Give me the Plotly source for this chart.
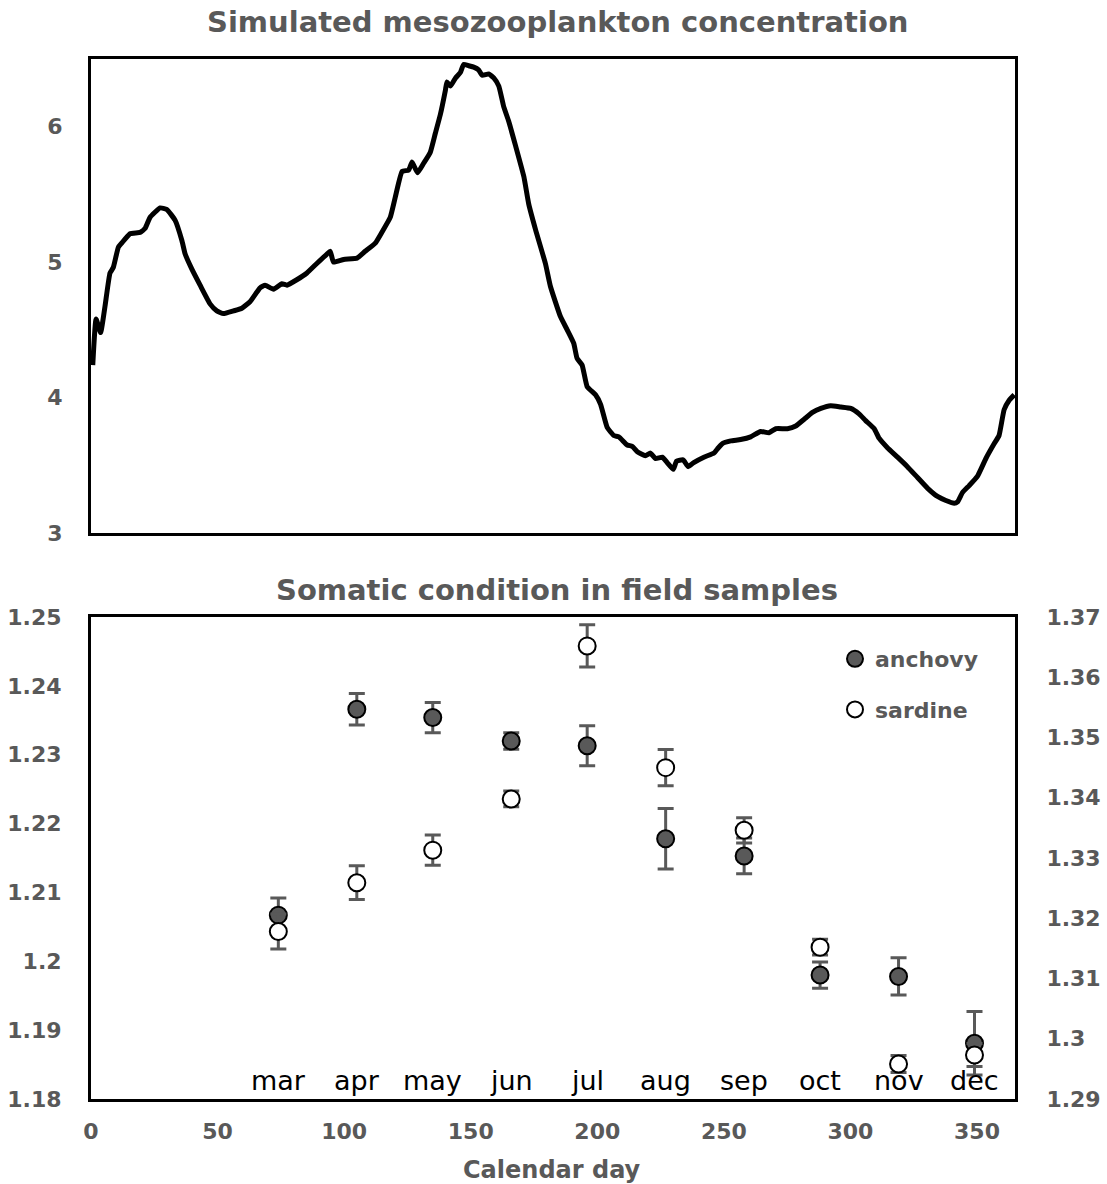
import plotly.graph_objects as go

# Simulated mesozooplankton concentration (calendar day, concentration)
model_day = [0.7, 2, 3.8, 5.5, 7.5, 8.8, 10.8, 12.1, 15.4, 19.4, 21.4, 23.3, 27.3, 29.9,
             33.2, 35.9, 37.2, 39.8, 43.1, 47.1, 49.7, 52.3, 56.3, 59.6, 62.9, 66.8, 68.8,
             72.1, 75.4, 77.4, 81.3, 85.3, 89.2, 93.2, 94.5, 95.8, 99.8, 105.1, 108.3, 112.3,
             114.9, 118.2, 120.2, 122.9, 125.5, 126.8, 129, 131.4, 134, 136, 138, 140,
             140.6, 142, 144, 145.9, 147.2, 149.2, 151.2, 153.1, 154.5, 157.1, 159.1, 161.1,
             163, 165, 167.7, 171, 172.9, 175.6, 179.5, 181.5, 185.4, 188.1, 190.7, 192,
             194, 196, 199.3, 201.3, 203.9, 206.5, 208.5, 211.8, 213.8, 215.8, 219, 221,
             223, 225.7, 227.6, 230, 231.3, 233.9, 235.9, 238.1, 242.1, 246.1, 247.4, 249.4,
             252.7, 256.6, 260.6, 264.5, 267.8, 270.5, 275.1, 278.4, 281.7, 285, 288.3,
             292.2, 296.2, 300.1, 303.4, 306, 309.4, 311.3, 314.6, 318.6, 322.5, 326.5,
             330.5, 334.4, 337.7, 341, 342.3, 344.3, 346.9, 350.2, 353.5, 356.8, 358.7,
             360.7, 362.7, 364.7]
model_conc = [4.24, 4.58, 4.48, 4.67, 4.92, 4.96, 5.11, 5.14, 5.21, 5.22, 5.25, 5.33, 5.40, 5.39,
              5.31, 5.16, 5.06, 4.95, 4.83, 4.69, 4.64, 4.62, 4.64, 4.66, 4.71, 4.81, 4.83,
              4.80, 4.84, 4.83, 4.87, 4.92, 4.99, 5.06, 5.08, 5.00, 5.02, 5.03, 5.08, 5.14,
              5.22, 5.33, 5.48, 5.67, 5.68, 5.74, 5.66, 5.73, 5.81, 5.95, 6.09, 6.27,
              6.33, 6.30, 6.36, 6.40, 6.46, 6.45, 6.44, 6.42, 6.38, 6.39, 6.36, 6.30,
              6.15, 6.04, 5.86, 5.63, 5.43, 5.24, 4.99, 4.82, 4.60, 4.50, 4.40, 4.29,
              4.24, 4.08, 4.02, 3.95, 3.78, 3.72, 3.71, 3.65, 3.64, 3.60, 3.57, 3.59,
              3.55, 3.56, 3.52, 3.47, 3.53, 3.54, 3.49, 3.52, 3.56, 3.59, 3.62, 3.66,
              3.68, 3.69, 3.71, 3.75, 3.74, 3.77, 3.77, 3.79, 3.84, 3.89, 3.92,
              3.94, 3.93, 3.92, 3.88, 3.83, 3.77, 3.70, 3.63, 3.56, 3.49, 3.41,
              3.33, 3.27, 3.24, 3.22, 3.23, 3.30, 3.35, 3.42, 3.55, 3.66, 3.72,
              3.91, 3.98, 4.02]

# Field samples: mid-month sampling days
sample_day = [74, 105, 135, 166, 196, 227, 258, 288, 319, 349]
month_labels = ["mar", "apr", "may", "jun", "jul", "aug", "sep", "oct", "nov", "dec"]
anchovy = [1.2067, 1.2366, 1.2354, 1.2320, 1.2313, 1.2178, 1.2153, 1.1980, 1.1978, 1.1881]
anchovy_err = [0.0025, 0.0023, 0.0022, 0.0012, 0.0029, 0.0044, 0.0026, 0.0019, 0.0027, 0.0046]
sardine = [1.3178, 1.3259, 1.3313, 1.3398, 1.3652, 1.3450, 1.3346, 1.3152, 1.2958, 1.2973]
sardine_err = [0.0029, 0.0028, 0.0025, 0.0013, 0.0035, 0.0030, 0.0021, 0.0013, 0.0014, 0.0019]

# Axis ticks
conc_ticks = [3, 4, 5, 6]
day_ticks = [0, 50, 100, 150, 200, 250, 300, 350]
anchovy_ticks = [1.18, 1.19, 1.20, 1.21, 1.22, 1.23, 1.24, 1.25]
anchovy_tick_text = ["1.18", "1.19", "1.2", "1.21", "1.22", "1.23", "1.24", "1.25"]
sardine_ticks = [1.29, 1.30, 1.31, 1.32, 1.33, 1.34, 1.35, 1.36, 1.37]
sardine_tick_text = ["1.29", "1.3", "1.31", "1.32", "1.33", "1.34", "1.35", "1.36", "1.37"]

W, H = 1107, 1184
GRAY = "#595959"
BOLD = "DejaVu Sans"


def px_x(p):
    return p / W


def px_y(p):
    return 1 - p / H


x_dom = [px_x(91), px_x(1015)]
top_dom = [px_y(533), px_y(59)]
bot_dom = [px_y(1099), px_y(617)]

fig = go.Figure()

fig.add_trace(go.Scatter(
    x=model_day, y=model_conc, mode="lines",
    line=dict(color="black", width=5, shape="spline", smoothing=0.4),
    xaxis="x", yaxis="y", showlegend=False, hoverinfo="skip",
))

fig.add_trace(go.Scatter(
    x=sample_day, y=anchovy, mode="markers", name="anchovy",
    legendgroup="a",
    marker=dict(size=17, color=GRAY, line=dict(color="black", width=2)),
    error_y=dict(type="data", array=anchovy_err, color=GRAY, thickness=3, width=8),
    xaxis="x2", yaxis="y2",
))

fig.add_trace(go.Scatter(
    x=sample_day, y=sardine, mode="markers", name="sardine",
    legendgroup="s",
    marker=dict(size=17, color="white", line=dict(color="black", width=2)),
    error_y=dict(type="data", array=sardine_err, color=GRAY, thickness=3, width=8),
    xaxis="x2", yaxis="y3",
))

tick_font = dict(family=BOLD, size=22, color=GRAY, weight="bold")
frame = dict(showline=True, linecolor="black", linewidth=3, mirror=True,
             showgrid=False, zeroline=False, ticks="", automargin=False)

annotations = [
    dict(text="Simulated mesozooplankton concentration", x=px_x(557), y=px_y(22),
         xref="paper", yref="paper", showarrow=False, xanchor="center", yanchor="middle",
         font=dict(family=BOLD, size=29, color=GRAY, weight="bold")),
    dict(text="Somatic condition in field samples", x=px_x(557), y=px_y(590),
         xref="paper", yref="paper", showarrow=False, xanchor="center", yanchor="middle",
         font=dict(family=BOLD, size=29, color=GRAY, weight="bold")),
    dict(text="Calendar day", x=px_x(552), y=px_y(1170),
         xref="paper", yref="paper", showarrow=False, xanchor="center", yanchor="middle",
         font=dict(family=BOLD, size=24, color=GRAY, weight="bold")),
]
for d, m in zip(sample_day, month_labels):
    annotations.append(dict(
        text=m, x=d, y=1.1801, xref="x2", yref="y2", showarrow=False,
        xanchor="center", yanchor="bottom",
        font=dict(family="DejaVu Sans", size=27, color="black"),
    ))

fig.update_layout(
    width=W, height=H,
    autosize=False,
    margin=dict(l=0, r=0, t=0, b=0, pad=0, autoexpand=False),
    paper_bgcolor="white", plot_bgcolor="white",
    xaxis=dict(domain=x_dom, range=[0, 365], anchor="y", showticklabels=False, **frame),
    yaxis=dict(domain=top_dom, range=[3, 6.5], anchor="x", tickvals=conc_ticks,
               tickfont=tick_font, ticklabelstandoff=21, **frame),
    xaxis2=dict(domain=x_dom, range=[0, 365], anchor="y2", tickvals=day_ticks,
                tickfont=tick_font, ticklabelstandoff=11, **frame),
    yaxis2=dict(domain=bot_dom, range=[1.18, 1.25], anchor="x2", tickvals=anchovy_ticks,
                ticktext=anchovy_tick_text, tickfont=tick_font, ticklabelstandoff=22, **frame),
    yaxis3=dict(range=[1.29, 1.37], overlaying="y2", anchor="x2", side="right",
                tickvals=sardine_ticks, ticktext=sardine_tick_text, tickfont=tick_font,
                ticklabelstandoff=24, showgrid=False, zeroline=False, ticks="",
                automargin=False, showline=True, linecolor="black", linewidth=3),
    legend=dict(x=px_x(835), y=px_y(638), xanchor="left", yanchor="top",
                bgcolor="rgba(0,0,0,0)", traceorder="grouped", tracegroupgap=19,
                itemwidth=30,
                font=dict(family=BOLD, size=22, color=GRAY, weight="bold")),
    annotations=annotations,
    showlegend=True,
)

fig.write_html("out.html")
